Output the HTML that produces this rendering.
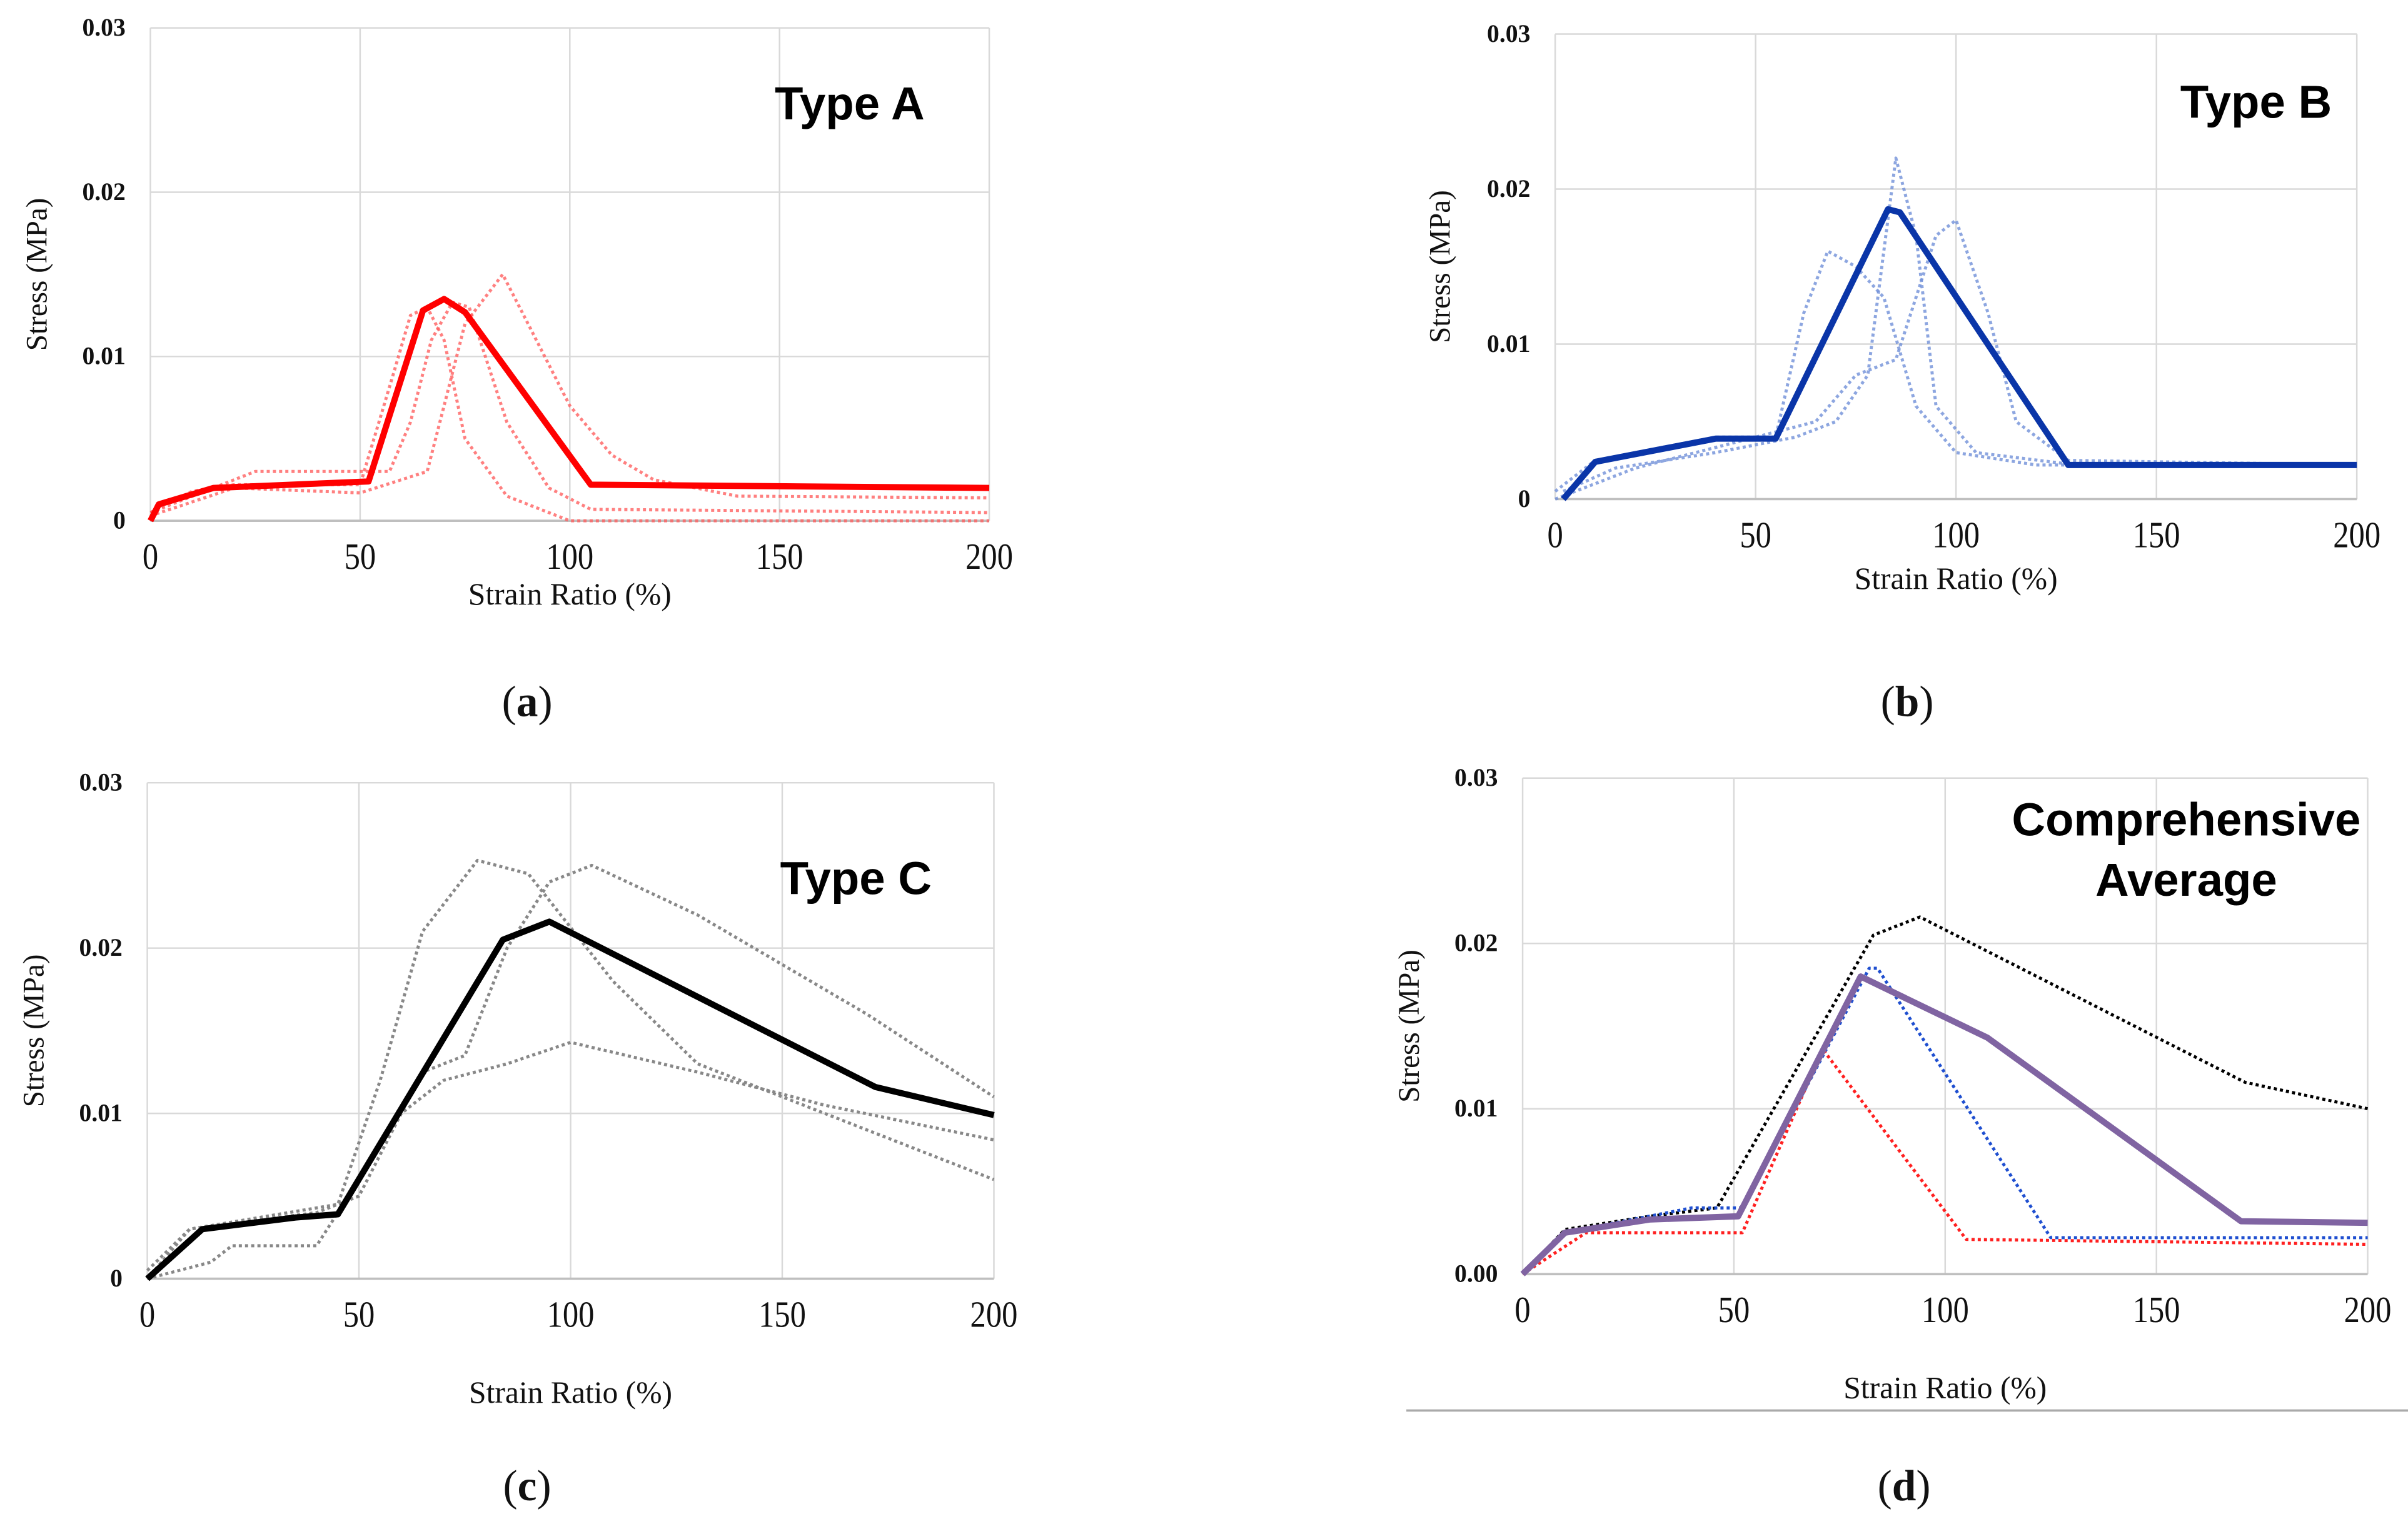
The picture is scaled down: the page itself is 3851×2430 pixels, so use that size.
<!DOCTYPE html>
<html><head><meta charset="utf-8"><style>
html,body{margin:0;padding:0;background:#fff;}
svg{display:block;}
.tk{font-family:"Liberation Serif",serif;fill:#111;}
.tt{font-family:"Liberation Sans",sans-serif;font-weight:bold;fill:#000;}
</style></head><body>
<svg id="fig" width="3851" height="2430" viewBox="0 0 1553 980" preserveAspectRatio="none" xmlns="http://www.w3.org/2000/svg"></svg>
<script>
// ---- data ----
const xTicks = [0, 50, 100, 150, 200];
const yTicksABC = ["0", "0.01", "0.02", "0.03"];
const yTicksD = ["0.00", "0.01", "0.02", "0.03"];
const yVals = [0, 0.01, 0.02, 0.03];

const aMeanX = [0, 2, 15, 52, 65, 70, 75, 105, 200];
const aMeanY = [0, 0.001, 0.002, 0.0024, 0.0128, 0.0135, 0.0127, 0.0022, 0.002];
const aT1X = [0, 10, 20, 50, 58, 62, 66, 70, 75, 85, 100, 200];
const aT1Y = [0.0005, 0.0018, 0.0022, 0.0022, 0.009, 0.0125, 0.013, 0.011, 0.005, 0.0015, 0, 0];
const aT2X = [0, 15, 25, 50, 57, 62, 67, 72, 76, 85, 95, 105, 200];
const aT2Y = [0.0005, 0.002, 0.003, 0.003, 0.003, 0.006, 0.011, 0.0133, 0.013, 0.006, 0.002, 0.0007, 0.0005];
const aT3X = [0, 20, 50, 66, 70, 75, 84, 90, 100, 110, 120, 140, 200];
const aT3Y = [0.0003, 0.002, 0.0017, 0.003, 0.007, 0.012, 0.015, 0.012, 0.007, 0.004, 0.0025, 0.0015, 0.0014];

const bMeanX = [2, 10, 40, 55, 83, 86, 128, 200];
const bMeanY = [0, 0.0024, 0.0039, 0.0039, 0.0187, 0.0185, 0.0022, 0.0022];
const bT1X = [0, 10, 40, 55, 62, 68, 75, 82, 90, 100, 120, 200];
const bT1Y = [0.0005, 0.0025, 0.004, 0.004, 0.012, 0.016, 0.015, 0.013, 0.006, 0.003, 0.0022, 0.0022];
const bT2X = [2, 15, 40, 60, 70, 78, 85, 90, 95, 105, 130, 200];
const bT2Y = [0.0005, 0.002, 0.003, 0.004, 0.005, 0.008, 0.022, 0.017, 0.006, 0.003, 0.0022, 0.0022];
const bT3X = [0, 20, 50, 65, 75, 85, 95, 100, 108, 115, 128, 200];
const bT3Y = [0, 0.002, 0.004, 0.005, 0.008, 0.009, 0.017, 0.018, 0.012, 0.005, 0.0025, 0.0022];

const cMeanX = [0, 13, 35, 45, 84, 95, 172, 200];
const cMeanY = [0, 0.003, 0.0037, 0.0039, 0.0205, 0.0216, 0.0116, 0.0099];
const cT1X = [0, 10, 45, 55, 65, 78, 90, 110, 130, 160, 200];
const cT1Y = [0.0005, 0.003, 0.0045, 0.012, 0.021, 0.0253, 0.0245, 0.018, 0.013, 0.01, 0.006];
const cT2X = [0, 15, 20, 40, 50, 65, 75, 85, 95, 105, 130, 170, 200];
const cT2Y = [0, 0.001, 0.002, 0.002, 0.006, 0.0125, 0.0135, 0.02, 0.024, 0.025, 0.022, 0.016, 0.011];
const cT3X = [0, 10, 40, 50, 60, 70, 85, 100, 130, 160, 200];
const cT3Y = [0, 0.003, 0.004, 0.005, 0.01, 0.012, 0.013, 0.0143, 0.0125, 0.0105, 0.0084];

const dAvgX = [0, 10, 30, 51, 80, 110, 170, 200];
const dAvgY = [0, 0.0025, 0.0033, 0.0035, 0.018, 0.0143, 0.0032, 0.0031];
const dCX = [0, 10, 30, 46, 83, 94, 171, 200];
const dCY = [0, 0.0027, 0.0035, 0.004, 0.0205, 0.0216, 0.0116, 0.01];
const dBX = [0, 10, 40, 52, 82, 84, 125, 200];
const dBY = [0, 0.0025, 0.004, 0.004, 0.0185, 0.0185, 0.0022, 0.0022];
const dAX = [0, 15, 52, 71, 105, 200];
const dAY = [0, 0.0025, 0.0025, 0.0136, 0.0021, 0.0018];

// ---- drawing ----
const NS = "http://www.w3.org/2000/svg";
const svg = document.getElementById("fig");
function mk(tag, attrs, parent) {
  const e = document.createElementNS(NS, tag);
  for (const k in attrs) e.setAttribute(k, attrs[k]);
  (parent || svg).appendChild(e);
  return e;
}
function panel(p) {
  const g = mk("g", {});
  
  
  const sx = v => p.l + (v / 200) * (p.r - p.l);
  const sy = v => p.b - (v / 0.03) * (p.b - p.t);
  xTicks.forEach(v => {
    const ln = mk("line", {x1: sx(v), x2: sx(v), y1: p.t, y2: p.b, stroke: "#d9d9d9", "stroke-width": 1}, g);
    
    
    const t = mk("text", {x: sx(v), y: p.b + 31, "text-anchor": "middle", "font-size": 24, class: "tk", "transform-origin": sx(v) + " " + (p.b + 31), transform: "scale(0.85,1)"}, g);
    
    
    t.textContent = v;
  });
  yVals.forEach((v, i) => {
    const ln = mk("line", {x1: p.l, x2: p.r, y1: sy(v), y2: sy(v), stroke: i === 0 ? "#bfbfbf" : "#d9d9d9", "stroke-width": i === 0 ? 1.5 : 1}, g);
    
    
    const t = mk("text", {x: p.l - 16, y: sy(v) + 5, "text-anchor": "end", "font-size": 16, "font-weight": "bold", class: "tk"}, g);
    
    
    t.textContent = p.yt[i];
  });
  const yt = mk("text", {x: 0, y: 0, "text-anchor": "middle", "font-size": 19, class: "tk", fill: "#333", transform: "translate(" + p.ytx + "," + ((p.t + p.b) / 2) + ") rotate(-90)"}, g);
  
  
  yt.textContent = "Stress (MPa)";
  const xt = mk("text", {x: (p.l + p.r) / 2, y: p.xty, "text-anchor": "middle", "font-size": 20, class: "tk", fill: "#333"}, g);
  
  
  xt.textContent = "Strain Ratio (%)";
  p.series.forEach(s => {
    const pts = s.x.map((xv, i) => sx(xv).toFixed(1) + "," + sy(s.y[i]).toFixed(1)).join(" ");
    const pl = mk("polyline", {points: pts, fill: "none", stroke: s.c, "stroke-width": s.w, "stroke-dasharray": s.d || "none", "stroke-linejoin": "round", opacity: s.o || 1}, g);
    
    
  });
  p.titles.forEach(tt => {
    const t = mk("text", {x: tt[1], y: tt[2], "text-anchor": "middle", "font-size": 30, class: "tt"}, g);
    
    
    t.textContent = tt[0];
  });
  const lb = mk("text", {x: p.lab[1], y: p.lab[2], "text-anchor": "middle", "font-size": 28, class: "tk", fill: "#000"}, g);
  
  
  lb.innerHTML = '(<tspan font-weight="bold">' + p.lab[0] + '</tspan>)';
}
const dot = "2,2";
panel({name: "panel-a", l: 97, r: 638, t: 18, b: 336, yt: yTicksABC, ytx: 30, xty: 390,
  titles: [["Type A", 548, 77]], lab: ["a", 340, 462],
  series: [
    {n: "type-a-trial-1", x: aT1X, y: aT1Y, c: "#ff6060", w: 2, d: dot, o: 0.8},
    {n: "type-a-trial-2", x: aT2X, y: aT2Y, c: "#ff6060", w: 2, d: dot, o: 0.8},
    {n: "type-a-trial-3", x: aT3X, y: aT3Y, c: "#ff6060", w: 2, d: dot, o: 0.8},
    {n: "type-a-mean", x: aMeanX, y: aMeanY, c: "#ff0000", w: 4}]});
panel({name: "panel-b", l: 1003, r: 1520, t: 22, b: 322, yt: yTicksABC, ytx: 935, xty: 380,
  titles: [["Type B", 1455, 76]], lab: ["b", 1230, 462],
  series: [
    {n: "type-b-trial-1", x: bT1X, y: bT1Y, c: "#7090d8", w: 2, d: dot, o: 0.8},
    {n: "type-b-trial-2", x: bT2X, y: bT2Y, c: "#7090d8", w: 2, d: dot, o: 0.8},
    {n: "type-b-trial-3", x: bT3X, y: bT3Y, c: "#7090d8", w: 2, d: dot, o: 0.8},
    {n: "type-b-mean", x: bMeanX, y: bMeanY, c: "#0a35a8", w: 4}]});
panel({name: "panel-c", l: 95, r: 641, t: 505, b: 825, yt: yTicksABC, ytx: 28, xty: 905,
  titles: [["Type C", 552, 577]], lab: ["c", 340, 968],
  series: [
    {n: "type-c-trial-1", x: cT1X, y: cT1Y, c: "#888", w: 2, d: dot},
    {n: "type-c-trial-2", x: cT2X, y: cT2Y, c: "#888", w: 2, d: dot},
    {n: "type-c-trial-3", x: cT3X, y: cT3Y, c: "#888", w: 2, d: dot},
    {n: "type-c-mean", x: cMeanX, y: cMeanY, c: "#000", w: 4}]});
panel({name: "panel-d", l: 982, r: 1527, t: 502, b: 822, yt: yTicksD, ytx: 915, xty: 902,
  titles: [["Comprehensive", 1410, 539], ["Average", 1410, 578]], lab: ["d", 1228, 968],
  series: [
    {n: "type-c-average", x: dCX, y: dCY, c: "#000", w: 2, d: dot},
    {n: "type-b-average", x: dBX, y: dBY, c: "#1f4fd0", w: 2, d: dot},
    {n: "type-a-average", x: dAX, y: dAY, c: "#ff2020", w: 2, d: dot},
    {n: "comprehensive-average", x: dAvgX, y: dAvgY, c: "#8064a2", w: 4}]});
const sep = mk("line", {x1: 907, x2: 1553, y1: 910, y2: 910, stroke: "#aaa", "stroke-width": 1.5});


</script>
</body></html>
